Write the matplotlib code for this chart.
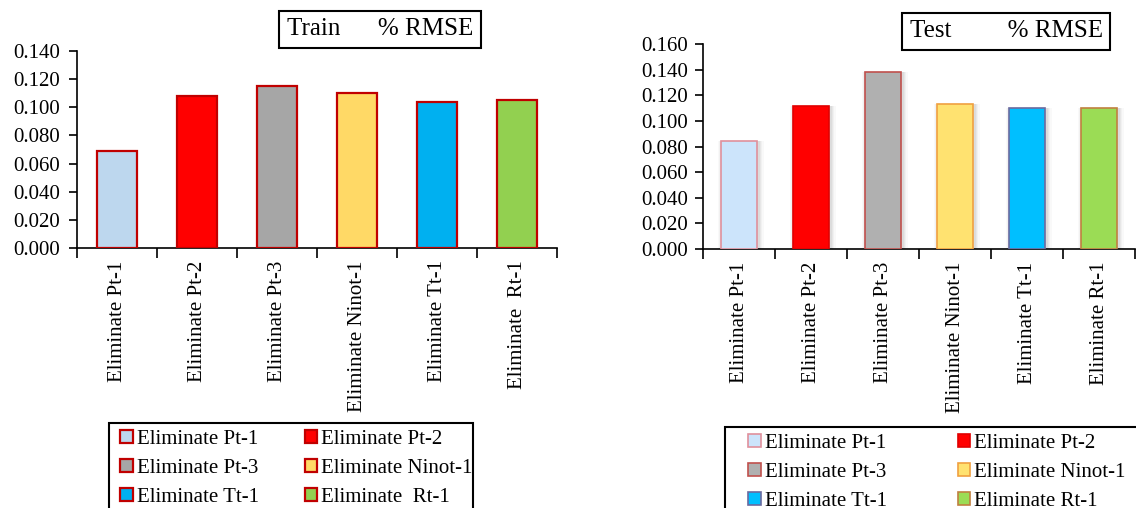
import matplotlib.pyplot as plt
from matplotlib.patches import Rectangle
import numpy as np

plt.rcParams['font.family'] = ['Liberation Serif', 'DejaVu Serif']
plt.rcParams['font.size'] = 15

categories = ['Eliminate Pt-1', 'Eliminate Pt-2', 'Eliminate Pt-3',
              'Eliminate Ninot-1', 'Eliminate Tt-1', 'Eliminate  Rt-1']
legend_train = ['Eliminate Pt-1', 'Eliminate Pt-2', 'Eliminate Pt-3',
                'Eliminate Ninot-1', 'Eliminate Tt-1', 'Eliminate  Rt-1']
legend_test = ['Eliminate Pt-1', 'Eliminate Pt-2', 'Eliminate Pt-3',
               'Eliminate Ninot-1', 'Eliminate Tt-1', 'Eliminate Rt-1']
test_ticklabels = ['Eliminate Pt-1', 'Eliminate Pt-2', 'Eliminate Pt-3',
                   'Eliminate Ninot-1', 'Eliminate Tt-1', 'Eliminate Rt-1']

train_rmse = [0.069, 0.108, 0.115, 0.110, 0.104, 0.105]
test_rmse = [0.084, 0.112, 0.138, 0.113, 0.110, 0.110]

train_ticks = [0.0, 0.02, 0.04, 0.06, 0.08, 0.10, 0.12, 0.14]
test_ticks = [0.0, 0.02, 0.04, 0.06, 0.08, 0.10, 0.12, 0.14, 0.16]

train_fill = ['#bdd7ee', '#ff0000', '#a6a6a6', '#ffd966', '#00b0f0', '#92d050']
test_fill = ['#cce4fb', '#ff0000', '#b0b0b0', '#ffe270', '#00bfff', '#9bdc55']
test_edge = ['#e0909c', '#e00000', '#c0504d', '#f0a040', '#6a6aa0', '#c08040']

W, H = 1136, 508
fig = plt.figure(figsize=(W / 100, H / 100), dpi=100)


def fx(px):
    return px / W


def fy(py):
    return 1 - py / H


def style_axes(ax, ticks, labels):
    for s in ['top', 'right']:
        ax.spines[s].set_visible(False)
    for s in ['left', 'bottom']:
        ax.spines[s].set_linewidth(1.2)
    ax.set_xlim(-0.5, 5.5)
    ax.set_ylim(0, ticks[-1])
    ax.set_yticks(ticks)
    ax.set_yticklabels(['%.3f' % t for t in ticks])
    ax.set_xticks(np.arange(-0.5, 6, 1.0))
    ax.set_xticklabels([])
    ax.set_xticks(np.arange(6), minor=True)
    ax.set_xticklabels(labels, minor=True, rotation=90, va='top')
    ax.tick_params(axis='x', which='major', length=7, width=1.2, direction='out')
    ax.tick_params(axis='x', which='minor', length=0, pad=9)
    ax.tick_params(axis='y', length=6, width=1.2, direction='out', pad=6)


# legend entries run across rows: reorder for matplotlib's column-first fill
order = [0, 2, 4, 1, 3, 5]

# Train chart
ax1 = fig.add_axes([fx(77), fy(248), fx(557) - fx(77), fy(51) - fy(248)])
x = np.arange(len(categories))
bars1 = ax1.bar(x, train_rmse, width=0.5, color=train_fill,
                edgecolor='#c00000', linewidth=1.6, zorder=3)
style_axes(ax1, train_ticks, categories)

# Test chart, bars with a soft drop shadow
ax2 = fig.add_axes([fx(703), fy(249), fx(1135) - fx(703), fy(44) - fy(249)])
for k, a in enumerate([0.06, 0.05, 0.04, 0.03]):
    ax2.bar(x + 0.025, test_rmse, width=0.52 + 0.04 * k, color='#404040',
            alpha=a, linewidth=0, zorder=1)
bars2 = ax2.bar(x, test_rmse, width=0.51, color=test_fill,
                edgecolor=test_edge, linewidth=1.2, zorder=3)
style_axes(ax2, test_ticks, test_ticklabels)
ax2.tick_params(axis='y', pad=5)

# Title boxes
fig.text(fx(380), fy(29), 'Train      % RMSE', ha='center', va='center',
         fontsize=18,
         bbox=dict(boxstyle='square,pad=0.3', fc='white', ec='black', lw=1.5))
fig.text(fx(1006), fy(31), 'Test         % RMSE', ha='center', va='center',
         fontsize=18,
         bbox=dict(boxstyle='square,pad=0.3', fc='white', ec='black', lw=1.5))

# Legends
fig.add_artist(Rectangle((fx(109), -0.1), fx(473) - fx(109), fy(423) + 0.1,
                         transform=fig.transFigure, fill=False,
                         ec='black', lw=1.5))
fig.legend([bars1[i] for i in order], [legend_train[i] for i in order],
           loc='upper left', ncol=2,
           bbox_to_anchor=(fx(120), fy(430)), frameon=False,
           borderpad=0, borderaxespad=0, handlelength=0.6, handleheight=0.6,
           handletextpad=0.2, columnspacing=2.2, labelspacing=0.47)

fig.add_artist(Rectangle((fx(725), -0.1), 0.5, fy(427) + 0.1,
                         transform=fig.transFigure, fill=False,
                         ec='black', lw=1.5))
fig.legend([bars2[i] for i in order], [legend_test[i] for i in order],
           loc='upper left', ncol=2,
           bbox_to_anchor=(fx(748), fy(434)), frameon=False,
           borderpad=0, borderaxespad=0, handlelength=0.6, handleheight=0.6,
           handletextpad=0.2, columnspacing=3.4, labelspacing=0.47)

fig.savefig('out.png', dpi=100)
